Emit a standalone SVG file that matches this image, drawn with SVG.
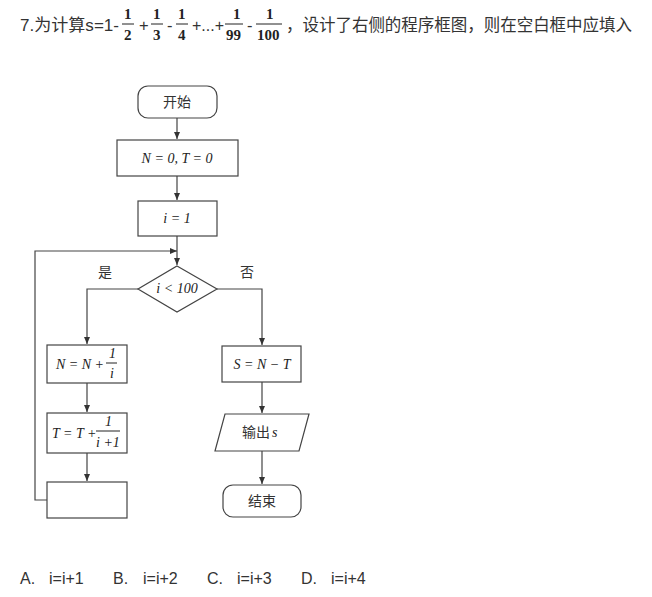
<svg xmlns="http://www.w3.org/2000/svg" width="652" height="597" viewBox="0 0 652 597">
<style>
.b{fill:#fff;stroke:#444;stroke-width:1.2}
.l{fill:none;stroke:#444;stroke-width:1.2}
.m{font-family:"Liberation Serif",serif;font-style:italic;font-size:14px;fill:#222}
.c{font-family:"Noto Sans CJK SC",sans-serif;font-size:14px;fill:#333}
.h{font-family:"Liberation Sans","Noto Sans CJK SC",sans-serif;font-size:16.5px;fill:#333}
.f{font-family:"Liberation Serif",serif;font-weight:bold;font-size:15px;fill:#222}
.o{font-family:"Liberation Sans",sans-serif;font-size:16px;fill:#333}
</style>
<defs><marker id="a" markerWidth="8" markerHeight="8" refX="7" refY="4" orient="auto" markerUnits="userSpaceOnUse"><path d="M0,1 L7,4 L0,7z" fill="#333"/></marker></defs>
<rect width="652" height="597" fill="#fff"/>
<g id="header">
<text class="h" x="20" y="31" textLength="99" lengthAdjust="spacingAndGlyphs">7.为计算s=1-</text>
<text class="f" x="124" y="19">1</text><line x1="122" y1="24" x2="134" y2="24" stroke="#222"/><text class="f" x="124" y="40">2</text>
<text class="h" x="139" y="31">+</text>
<text class="f" x="153" y="19">1</text><line x1="151" y1="24" x2="163" y2="24" stroke="#222"/><text class="f" x="153" y="40">3</text>
<text class="h" x="167" y="31">-</text>
<text class="f" x="178" y="19">1</text><line x1="176" y1="24" x2="188" y2="24" stroke="#222"/><text class="f" x="178" y="40">4</text>
<text class="h" x="192" y="31" textLength="32" lengthAdjust="spacingAndGlyphs">+...+</text>
<text class="f" x="233" y="19">1</text><line x1="225" y1="24" x2="243" y2="24" stroke="#222"/><text class="f" x="226" y="40">99</text>
<text class="h" x="247" y="31">-</text>
<text class="f" x="266" y="19">1</text><line x1="256" y1="24" x2="282" y2="24" stroke="#222"/><text class="f" x="257" y="40">100</text>
<text class="h" x="286" y="31" textLength="346" lengthAdjust="spacingAndGlyphs">，设计了右侧的程序框图，则在空白框中应填入</text>
</g>
<g id="connectors">
<line class="l" x1="177" y1="118" x2="177" y2="139" marker-end="url(#a)"/>
<line class="l" x1="177" y1="176" x2="177" y2="200" marker-end="url(#a)"/>
<line class="l" x1="177" y1="236" x2="177" y2="265" marker-end="url(#a)"/>
<polyline class="l" points="47,500 35,500 35,251 177,251" marker-end="url(#a)"/>
<polyline class="l" points="138,289 87,289 87,344" marker-end="url(#a)"/>
<line class="l" x1="87" y1="383" x2="87" y2="412" marker-end="url(#a)"/>
<line class="l" x1="87" y1="453" x2="87" y2="481" marker-end="url(#a)"/>
<polyline class="l" points="217,289 262,289 262,345" marker-end="url(#a)"/>
<line class="l" x1="262" y1="382" x2="262" y2="413" marker-end="url(#a)"/>
<line class="l" x1="262" y1="451" x2="262" y2="484" marker-end="url(#a)"/>
<text class="c" x="98" y="277">是</text>
<text class="c" x="240" y="277">否</text>
</g>
<g id="start"><rect class="b" x="138" y="86" width="79" height="32" rx="10"/><text class="c" x="177" y="107" text-anchor="middle">开始</text></g>
<g id="init"><rect class="b" x="117" y="140" width="121" height="36"/><text class="m" x="177" y="163" text-anchor="middle" font-size="12">N = 0, T = 0</text></g>
<g id="i1"><rect class="b" x="138" y="201" width="79" height="35"/><text class="m" x="177" y="223" text-anchor="middle">i = 1</text></g>
<g id="cond"><polygon class="b" points="177,266 217,289 177,312 138,289"/><text class="m" x="177" y="293" text-anchor="middle">i &lt; 100</text></g>
<g id="nbox"><rect class="b" x="47" y="345" width="80" height="38"/><text class="m" x="56" y="369">N = N +</text><text class="m" x="109" y="358">1</text><line x1="106" y1="363" x2="117" y2="363" stroke="#222"/><text class="m" x="110" y="378">i</text></g>
<g id="tbox"><rect class="b" x="47" y="413" width="80" height="40"/><text class="m" x="52" y="438">T = T +</text><text class="m" x="105" y="426">1</text><line x1="96" y1="431" x2="120" y2="431" stroke="#222"/><text class="m" x="96" y="447">i +1</text></g>
<g id="blank"><rect class="b" x="47" y="482" width="80" height="36"/></g>
<g id="sbox"><rect class="b" x="222" y="346" width="79" height="36"/><text class="m" x="262" y="369" text-anchor="middle">S = N − T</text></g>
<g id="out"><polygon class="b" points="225,414 309,414 299,451 215,451"/><text class="c" x="242" y="437">输出</text><text class="m" x="272" y="437">s</text></g>
<g id="end"><rect class="b" x="223" y="485" width="78" height="32" rx="10"/><text class="c" x="262" y="506" text-anchor="middle">结束</text></g>
<g id="options">
<text class="o" x="20" y="584">A.</text><text class="o" x="49" y="584">i=i+1</text>
<text class="o" x="113" y="584">B.</text><text class="o" x="143" y="584">i=i+2</text>
<text class="o" x="207" y="584">C.</text><text class="o" x="237" y="584">i=i+3</text>
<text class="o" x="301" y="584">D.</text><text class="o" x="331" y="584">i=i+4</text>
</g>
</svg>
